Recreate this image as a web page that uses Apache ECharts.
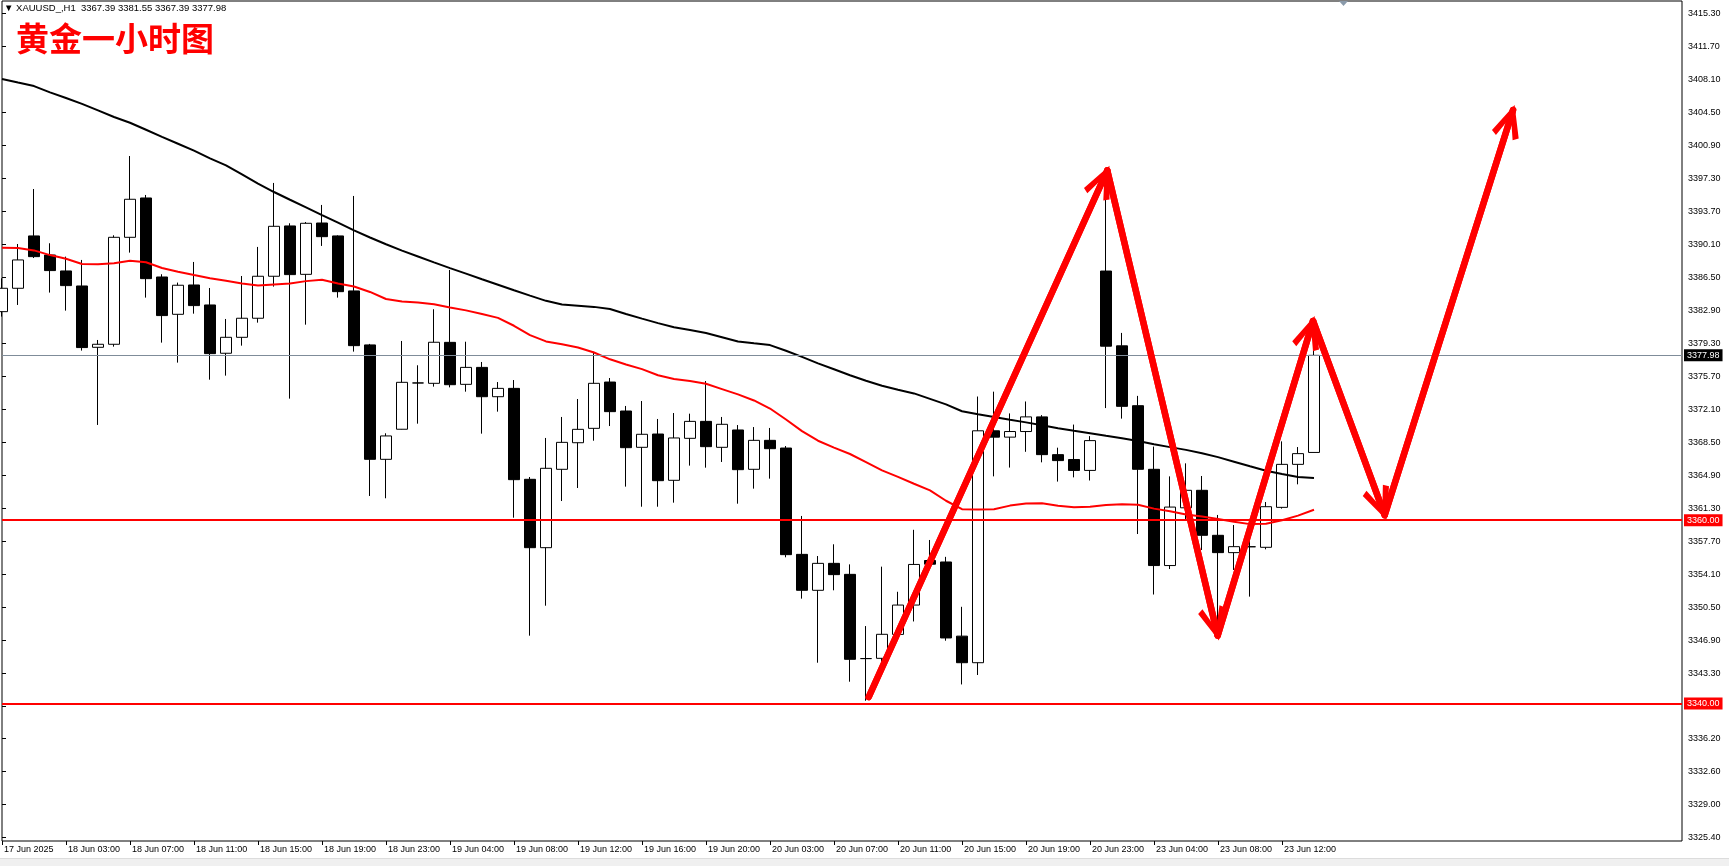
<!DOCTYPE html>
<html>
<head>
<meta charset="utf-8">
<script src="https://cdn.jsdelivr.net/npm/echarts@6/dist/echarts.min.js"></script>
<style>
html,body{margin:0;padding:0;background:#fff;}
#chart{width:1729px;height:866px;}
</style>
</head>
<body>
<div id="chart"></div>
<script>
// ---------- data ----------
const headerText = '\u25BC XAUUSD_,H1  3367.39 3381.55 3367.39 3377.98';
const titleText = '黄金一小时图';

const xTickLabels = ['17 Jun 2025','18 Jun 03:00','18 Jun 07:00','18 Jun 11:00','18 Jun 15:00','18 Jun 19:00',
  '18 Jun 23:00','19 Jun 04:00','19 Jun 08:00','19 Jun 12:00','19 Jun 16:00','19 Jun 20:00','20 Jun 03:00',
  '20 Jun 07:00','20 Jun 11:00','20 Jun 15:00','20 Jun 19:00','20 Jun 23:00','23 Jun 04:00','23 Jun 08:00','23 Jun 12:00'];

const yTicks = [3325.40,3329.00,3332.60,3336.20,3339.70,3343.30,3346.90,3350.50,3354.10,3357.70,3361.30,3364.90,
  3368.50,3372.10,3375.70,3379.30,3382.90,3386.50,3390.10,3393.70,3397.30,3400.90,3404.50,3408.10,3411.70,3415.30];

const opens = [3382.75,3385.30,3391.01,3388.93,3387.19,3385.55,3378.86,3379.19,3390.86,3395.15,
  3386.53,3382.46,3385.66,3383.48,3378.21,3379.95,3382.03,3386.61,3392.10,3386.82,
  3392.42,3391.01,3385.01,3379.12,3366.64,3369.92,3374.97,3374.93,3379.40,3374.82,
  3376.67,3373.47,3374.38,3364.46,3357.00,3365.55,3368.45,3370.02,3375.07,3371.91,
  3367.95,3369.40,3364.35,3368.93,3370.78,3367.95,3369.84,3365.55,3368.71,3367.87,
  3356.27,3352.35,3355.29,3354.09,3344.90,3344.93,3347.54,3350.74,3355.60,3355.44,
  3347.35,3344.45,3369.75,3369.06,3369.67,3371.27,3367.15,3366.62,3365.43,3387.18,
  3379.02,3372.49,3365.55,3355.05,3361.35,3363.26,3358.35,3356.46,3357.10,3357.04,
  3361.40,3366.09,3367.39];
const highs = [3386.39,3390.13,3396.13,3390.21,3388.75,3388.39,3379.66,3391.08,3399.73,3395.48,
  3386.83,3385.92,3388.17,3385.33,3381.95,3386.64,3389.81,3396.79,3392.39,3392.53,
  3394.39,3391.08,3395.37,3379.23,3369.48,3379.55,3376.90,3383.01,3387.30,3379.47,
  3377.26,3375.07,3375.29,3364.71,3368.97,3371.26,3373.22,3378.38,3375.51,3372.46,
  3373.00,3371.04,3371.69,3371.62,3375.18,3371.26,3370.38,3370.16,3370.06,3368.09,
  3360.46,3356.09,3357.37,3355.18,3348.45,3354.93,3352.19,3358.95,3357.84,3356.00,
  3350.55,3373.49,3374.02,3371.65,3372.95,3371.46,3367.91,3370.43,3369.17,3395.50,
  3380.43,3373.56,3368.03,3364.78,3366.20,3364.82,3360.57,3359.47,3358.00,3361.98,
  3368.60,3367.98,3381.55];
const lows = [3382.21,3383.48,3388.60,3384.83,3382.86,3378.50,3370.39,3378.93,3389.19,3384.28,
  3379.37,3377.19,3382.53,3375.33,3375.77,3379.04,3381.55,3385.48,3373.26,3381.33,
  3389.92,3384.28,3378.39,3362.64,3362.39,3369.90,3370.53,3374.57,3374.49,3374.02,
  3369.44,3371.84,3360.27,3347.40,3350.67,3362.09,3363.51,3368.67,3370.27,3363.66,
  3361.47,3361.47,3361.91,3365.95,3365.73,3366.35,3361.80,3363.44,3364.53,3355.95,
  3351.44,3344.45,3352.35,3342.38,3340.30,3344.30,3347.30,3348.95,3355.00,3346.85,
  3342.08,3343.11,3364.78,3365.74,3367.46,3366.31,3364.21,3364.67,3364.33,3372.23,
  3371.08,3358.49,3351.89,3354.67,3360.00,3356.75,3347.10,3354.57,3351.66,3356.82,
  3361.26,3363.91,3367.39];
const closes = [3385.30,3388.39,3388.75,3387.23,3385.59,3378.83,3379.19,3390.86,3395.01,3386.35,
  3382.32,3385.63,3383.41,3378.17,3379.95,3382.03,3386.61,3392.06,3386.79,3392.39,
  3390.93,3384.93,3379.04,3366.64,3369.19,3375.04,3374.97,3379.41,3374.78,3376.67,
  3373.47,3374.38,3364.42,3357.00,3365.66,3368.49,3369.91,3374.93,3371.84,3367.91,
  3369.37,3364.31,3368.97,3370.78,3368.02,3370.46,3365.51,3368.71,3367.80,3356.24,
  3352.35,3355.29,3354.06,3344.82,3344.90,3347.55,3350.74,3355.17,3355.20,3347.15,
  3344.45,3369.75,3369.06,3369.67,3371.27,3367.15,3366.50,3365.43,3368.68,3378.98,
  3372.42,3365.55,3355.05,3361.43,3363.26,3358.35,3356.46,3357.11,3357.10,3361.47,
  3366.09,3367.26,3377.98];

const maBlack = [3408.13,3407.74,3407.36,3406.67,3406.06,3405.42,3404.70,3403.98,3403.36,3402.59,
  3401.82,3401.07,3400.31,3399.47,3398.71,3397.72,3396.72,3395.80,3394.96,3394.13,
  3393.29,3392.46,3391.62,3390.84,3390.10,3389.41,3388.77,3388.13,3387.50,3386.90,
  3386.29,3385.69,3385.09,3384.50,3383.93,3383.52,3383.40,3383.27,3383.03,3382.50,
  3381.99,3381.50,3381.05,3380.75,3380.43,3379.96,3379.49,3379.29,3379.10,3378.49,
  3377.82,3377.11,3376.46,3375.81,3375.21,3374.67,3374.22,3373.83,3373.23,3372.63,
  3371.88,3371.55,3371.26,3370.96,3370.67,3370.36,3370.04,3369.75,3369.49,3369.20,
  3368.93,3368.63,3368.28,3367.97,3367.67,3367.31,3366.88,3366.38,3365.88,3365.40,
  3365.04,3364.70,3364.60];
const maRed = [3389.73,3389.70,3389.43,3388.92,3388.52,3387.94,3387.92,3388.04,3388.31,3388.14,
  3387.51,3387.11,3386.75,3386.40,3386.13,3385.81,3385.61,3385.72,3385.82,3386.08,
  3386.24,3385.82,3385.50,3384.90,3384.13,3383.85,3383.74,3383.55,3383.21,3382.89,
  3382.50,3382.07,3381.21,3380.19,3379.50,3379.20,3378.84,3378.29,3377.55,3376.99,
  3376.48,3375.81,3375.41,3375.19,3374.88,3374.30,3373.72,3373.06,3372.18,3370.98,
  3369.71,3368.67,3367.92,3367.22,3366.34,3365.43,3364.72,3363.97,3363.25,3362.12,
  3361.20,3361.16,3361.20,3361.59,3361.81,3361.84,3361.58,3361.41,3361.47,3361.65,
  3361.75,3361.69,3361.26,3360.98,3360.62,3360.39,3360.14,3359.83,3359.57,3359.60,
  3359.99,3360.50,3361.14];

const levelLines = [3360.00, 3340.00];
const lastPrice = 3377.98;

// hand-drawn forecast arrows: vertices as (bar position, price)
const arrowBars   = [54.17, 69.08, 75.98, 81.94, 86.42, 94.44];
const arrowPrices = [3340.71, 3398.15, 3347.42, 3381.73, 3360.56, 3404.75];

const BAR_SLOTS = 106;

// ---------- build ----------
const categories = [];
for (let i = 0; i < BAR_SLOTS; i++) {
  categories.push(i % 4 === 0 && xTickLabels[i / 4] ? xTickLabels[i / 4] : '');
}
const candleData = opens.map((o, i) => [o, closes[i], lows[i], highs[i]]);
const arrowData = arrowBars.map((b, i) => [b, arrowPrices[i]]);
const arrowSegs = [];
for (let i = 0; i < arrowData.length - 1; i++) {
  arrowSegs.push([{ coord: arrowData[i] }, { coord: arrowData[i + 1] }]);
}
const chevron = 'path://M50,0 M50,82 L98,188 L80,200 L50,124 L20,200 L2,188 Z';
const axisFont = "'Liberation Sans', Arial, sans-serif";

const chart = echarts.init(document.getElementById('chart'), null, { renderer: 'canvas' });
chart.setOption({
  animation: false,
  backgroundColor: '#ffffff',
  title: [
    { text: headerText, left: 4, top: 3, padding: 0,
      textStyle: { fontSize: 9.5, fontWeight: 'normal', color: '#000', fontFamily: axisFont } },
    { text: titleText, left: 16, top: 22, padding: 0,
      textStyle: { fontSize: 33, fontWeight: 'bold', color: '#ff0000', fontFamily: "'Noto Sans CJK SC', sans-serif",
        textShadowColor: 'rgba(0,0,160,0.35)', textShadowOffsetX: 1, textShadowOffsetY: 1, textShadowBlur: 0 } }
  ],
  grid: { left: 2, right: 47, top: 1, bottom: 25, show: true, borderColor: '#000', borderWidth: 1, backgroundColor: '#fff' },
  xAxis: [
    { type: 'category', data: categories, boundaryGap: false,
      axisLine: { show: false },
      axisTick: { show: true, length: 4, lineStyle: { color: '#000' }, interval: (idx, val) => val !== '' },
      axisLabel: { interval: 3, align: 'left', margin: 4, padding: [0, 0, 0, 2], fontSize: 9, color: '#000', fontFamily: axisFont,
        showMaxLabel: false },
      splitLine: { show: false } },
    { type: 'value', min: 0, max: BAR_SLOTS - 1, show: false, splitLine: { show: false } }
  ],
  yAxis: [{
    type: 'value', position: 'right', min: 3325.0, max: 3416.64, scale: true,
    axisLine: { show: false },
    axisTick: { show: true, length: 4, lineStyle: { color: '#000' }, customValues: yTicks },
    axisLabel: { customValues: yTicks, formatter: v => Number(v).toFixed(2), margin: 6, fontSize: 9, color: '#000', fontFamily: axisFont },
    splitLine: { show: false }
  }],
  series: [
    {
      type: 'candlestick', name: 'XAUUSD', xAxisIndex: 0, yAxisIndex: 0, z: 2,
      data: candleData, barWidth: 11,
      itemStyle: { color: '#ffffff', color0: '#000000', borderColor: '#000000', borderColor0: '#000000',
        borderColorDoji: '#000000', borderWidth: 1 },
      emphasis: { disabled: true }, silent: true
    },
    {
      type: 'line', name: 'MA slow', xAxisIndex: 0, yAxisIndex: 0, z: 3, data: maBlack,
      symbol: 'none', lineStyle: { color: '#000', width: 2 }, silent: true
    },
    {
      type: 'line', name: 'MA fast', xAxisIndex: 0, yAxisIndex: 0, z: 3, data: maRed,
      symbol: 'none', lineStyle: { color: '#ff0000', width: 2 }, silent: true,
      markLine: {
        silent: true, symbol: ['none', 'none'], animation: false,
        data: [
          { yAxis: levelLines[0], lineStyle: { color: '#ff0000', width: 2, type: 'solid' },
            label: { backgroundColor: '#ff0000' } },
          { yAxis: levelLines[1], lineStyle: { color: '#ff0000', width: 2, type: 'solid' },
            label: { backgroundColor: '#ff0000' } },
          { yAxis: lastPrice, lineStyle: { color: '#7f8c99', width: 1, type: 'solid' },
            label: { backgroundColor: '#000000' } }
        ],
        label: { show: true, position: 'end', distance: 2, formatter: p => Number(p.value).toFixed(2),
          color: '#fff', fontSize: 9, fontFamily: axisFont, padding: [2, 3, 1, 3] }
      }
    },
    {
      type: 'line', name: 'forecast', xAxisIndex: 1, yAxisIndex: 0, z: 6, data: arrowData,
      symbol: 'none', silent: true, clip: false,
      lineStyle: { color: '#ff0000', width: 6.5, cap: 'round', join: 'round' },
      markLine: {
        silent: true, animation: false,
        symbol: ['none', chevron], symbolSize: [28, 58],
        lineStyle: { color: '#ff0000', width: 6.5, type: 'solid', cap: 'round' },
        label: { show: false },
        data: arrowSegs
      }
    }
  ],
  graphic: [
    { type: 'polygon', shape: { points: [[1339, 1], [1348, 1], [1343.5, 6]] }, style: { fill: '#8a9aaa' }, silent: true },
    { type: 'rect', shape: { x: 0, y: 859, width: 1729, height: 7 }, style: { fill: '#f0f0f0' }, silent: true },
    { type: 'line', shape: { x1: 0, y1: 858.5, x2: 1729, y2: 858.5 }, style: { stroke: '#dcdcdc', lineWidth: 1 }, silent: true }
  ]
});
</script>
</body>
</html>
